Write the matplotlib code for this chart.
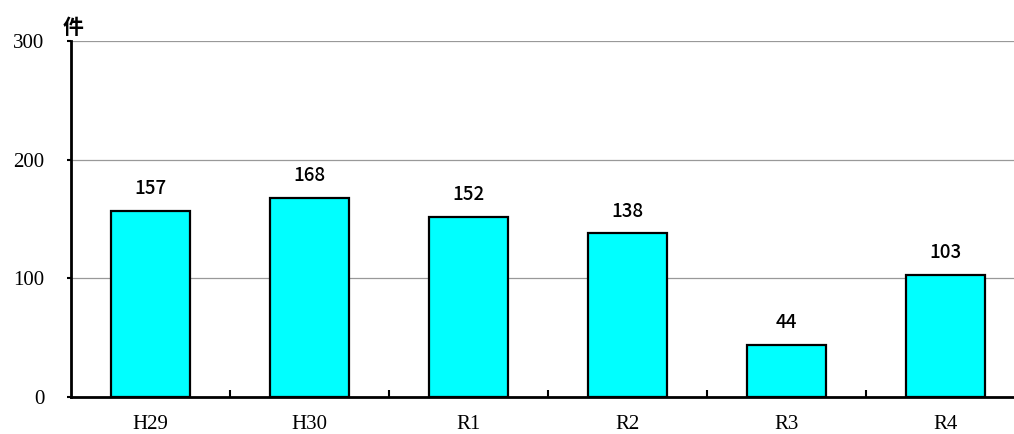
import numpy as np
import matplotlib
matplotlib.use("Agg")
import matplotlib.pyplot as plt
from matplotlib.ticker import FixedLocator

categories = ["H29", "H30", "R1", "R2", "R3", "R4"]
counts = [157, 168, 152, 138, 44, 103]
y_ticks = [0, 100, 200, 300]

fig = plt.figure(figsize=(10.14, 4.34), dpi=100)
ax = fig.add_axes([71 / 1014, 1 - 397 / 434, 1 - 71 / 1014, (397 - 41) / 434])

x = np.arange(len(categories))
bars = ax.bar(x, counts, width=0.5, color="#00FFFF", edgecolor="black", linewidth=1.6, zorder=3)

for xi, v in zip(x, counts):
    ax.annotate(str(v), (xi, v), xytext=(0, 9), textcoords="offset points",
                ha="center", va="bottom", fontsize=13.5, fontweight="medium",
                family=["Noto Sans CJK JP", "DejaVu Sans"])

ax.set_xlim(-0.5, -0.5 + 943 / 159)
ax.set_ylim(0, 300)
ax.set_yticks(y_ticks)
ax.yaxis.grid(True, color="#999999", linewidth=0.9, zorder=0)
ax.set_yticklabels([str(t) for t in y_ticks], family="Liberation Serif", fontsize=15)
ax.tick_params(axis="y", length=3, width=1.5, pad=16)

ax.set_xticks(x)
ax.set_xticklabels(categories, family="Liberation Serif", fontsize=15)
ax.tick_params(axis="x", which="major", length=0, pad=13)
ax.xaxis.set_minor_locator(FixedLocator(np.arange(0.5, len(categories) - 0.5, 1.0)))
ax.tick_params(axis="x", which="minor", direction="in", length=5, width=1.5)

for s in ["top", "right"]:
    ax.spines[s].set_visible(False)
ax.spines["left"].set_linewidth(2)
ax.spines["bottom"].set_linewidth(2)
ax.spines["left"].set_zorder(4)

fig.text(73 / 1014, 1 - 27 / 434, "件", ha="center", va="center", fontsize=15,
         fontweight="bold", family=["Noto Sans CJK JP", "DejaVu Sans"])

fig.savefig("out.png", dpi=100)
